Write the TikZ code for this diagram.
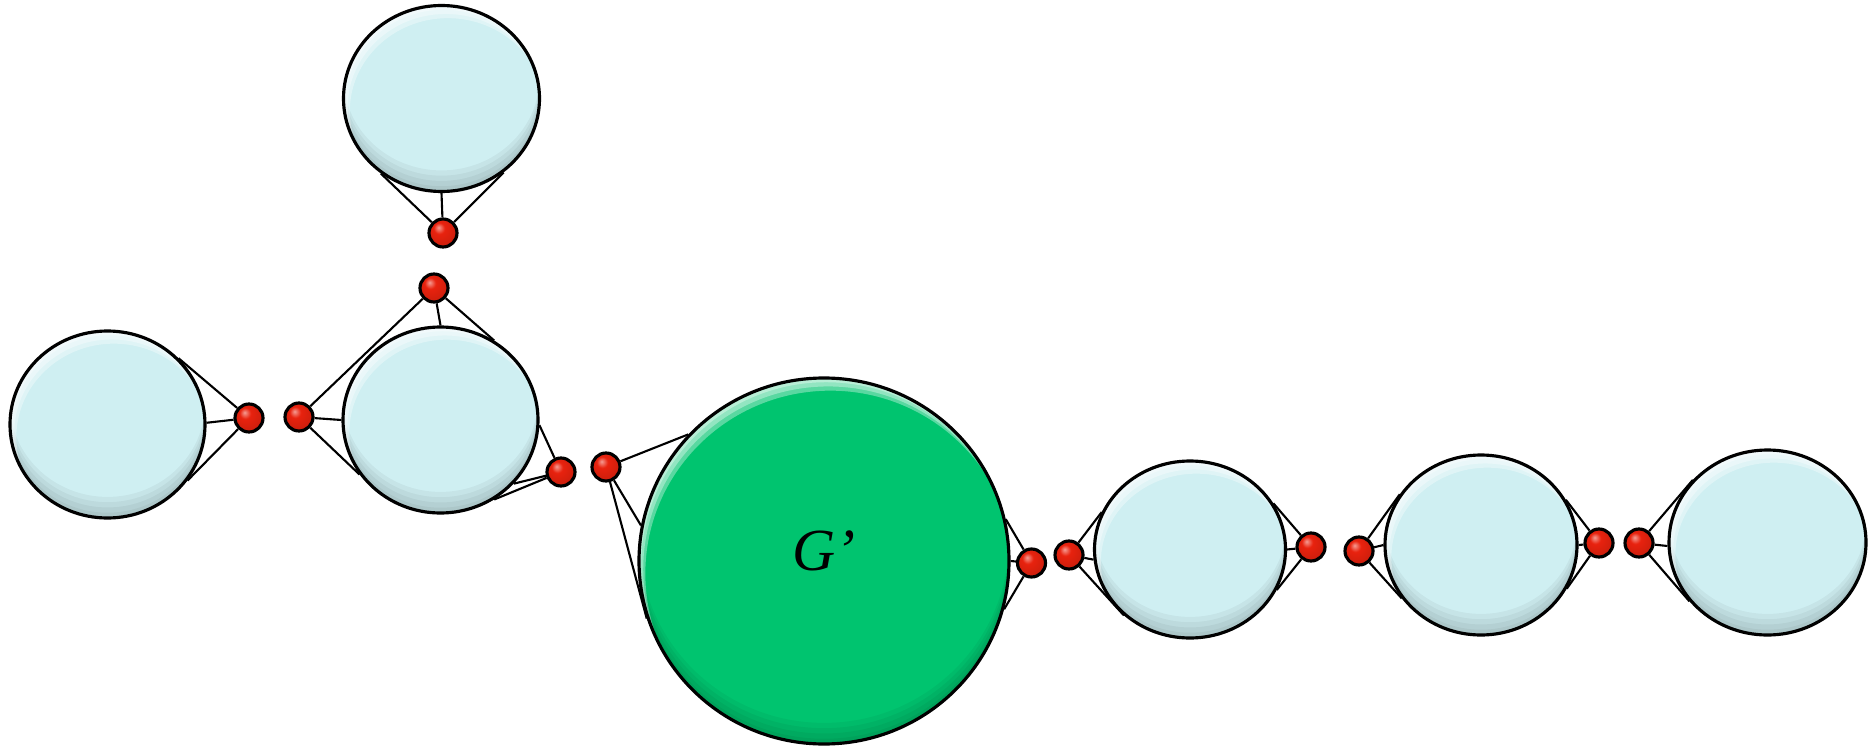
\documentclass[tikz,border=0pt]{standalone}
\usepackage{fontspec}
\setmainfont{Liberation Serif}
\usepackage{tikz}
\usetikzlibrary{shapes.geometric, calc}

\definecolor{cloud}{HTML}{CFEFF2}
\definecolor{core}{HTML}{00C46F}
\definecolor{bead}{HTML}{E8220E}
\pgfdeclareradialshading{beadball}{\pgfpoint{-8bp}{10bp}}{%
  color(0bp)=(white!55!bead); color(10bp)=(bead); color(30bp)=(bead!88!black);
  color(48bp)=(bead!60!black); color(62bp)=(bead!45!black)}

\begin{document}
\begin{tikzpicture}[
    blob/.style={ellipse, draw=black, line width=0.9pt, fill=#1, inner sep=0pt,
      path picture={
        \foreach \s in {1.5,3,4.5,6}
          \fill[black, opacity=0.045, even odd rule]
            let \p1=(path picture bounding box.north east),
                \p2=(path picture bounding box.center) in
            (path picture bounding box.south west) rectangle (path picture bounding box.north east)
            (\x2,\y2+\s pt) ellipse ({\x1-\x2} and {\y1-\y2});
        \foreach \s in {1.2,2.4,3.6}
          \fill[white, opacity=0.35, even odd rule]
            let \p1=(path picture bounding box.north east),
                \p2=(path picture bounding box.center) in
            (path picture bounding box.south west) rectangle (path picture bounding box.north east)
            (\x2+0.5*\s pt,\y2-\s pt) ellipse ({\x1-\x2} and {\y1-\y2});
      }},
    bead/.style={circle, draw=black, line width=0.9pt, shading=beadball, minimum size=2.8mm, inner sep=0pt},
    link/.style={line width=0.6pt}
  ]
    \useasboundingbox (0,0) rectangle (18.68,7.47);

    % clouds
    \node[blob=cloud, minimum width=1.96cm, minimum height=1.86cm] (topcl) at (4.415,6.485) {};
    \node[blob=cloud, minimum width=1.95cm, minimum height=1.87cm] (leftcl) at (1.075,3.225) {};
    \node[blob=cloud, minimum width=1.95cm, minimum height=1.86cm] (midcl) at (4.405,3.27) {};
    \node[blob=core, minimum width=3.70cm, minimum height=3.66cm, text depth=2mm,
          font=\fontsize{17}{20}\selectfont\itshape] (core) at (8.24,1.86) {G’};
    \node[blob=cloud, minimum width=1.91cm, minimum height=1.77cm] (cl1) at (11.90,1.975) {};
    \node[blob=cloud, minimum width=1.92cm, minimum height=1.80cm] (cl2) at (14.81,2.02) {};
    \node[blob=cloud, minimum width=1.97cm, minimum height=1.85cm] (cl3) at (17.675,2.045) {};

    % beads
    \node[bead] (t1) at (4.43,5.14) {};
    \node[bead] (t2) at (4.34,4.59) {};
    \node[bead] (l1) at (2.49,3.29) {};
    \node[bead] (l2) at (2.99,3.30) {};
    \node[bead] (m1) at (5.61,2.75) {};
    \node[bead] (m2) at (6.06,2.80) {};
    \node[bead] (r1) at (10.315,1.84) {};
    \node[bead] (r2) at (10.69,1.92) {};
    \node[bead] (r3) at (13.11,2.00) {};
    \node[bead] (r4) at (13.59,1.96) {};
    \node[bead] (r5) at (15.99,2.04) {};
    \node[bead] (r6) at (16.39,2.04) {};

    % links
    \draw[link] (t1) -- (topcl.231) (t1) -- (topcl.270) (t1) -- (topcl.310);
    \draw[link] (t2) -- (midcl.90) (t2) -- (midcl.56);
    \draw[link] (l2) -- (t2);
    \draw[link] (l1) -- (leftcl.43) (l1) -- (leftcl.1) (l1) -- (leftcl.325);
    \draw[link] (l2) -- (midcl.180) (l2) -- (midcl.214);
    \draw[link] (m1) -- (midcl.357) (m1) -- (midcl.319) (m1) -- (midcl.304);
    \draw[link] (m2) -- (core.137) (m2) -- (core.169) (m2) -- (core.198);
    \draw[link] (r1) -- (core.13) (r1) -- (core.0) (r1) -- (core.345);
    \draw[link] (r2) -- (cl1.157) (r2) -- (cl1.186) (r2) -- (cl1.225);
    \draw[link] (r3) -- (cl1.29) (r3) -- (cl1.0) (r3) -- (cl1.335);
    \draw[link] (r4) -- (cl2.148) (r4) -- (cl2.180) (r4) -- (cl2.214);
    \draw[link] (r5) -- (cl2.28) (r5) -- (cl2.0) (r5) -- (cl2.333);
    \draw[link] (r6) -- (cl3.140) (r6) -- (cl3.182) (r6) -- (cl3.217);
\end{tikzpicture}
\end{document}
